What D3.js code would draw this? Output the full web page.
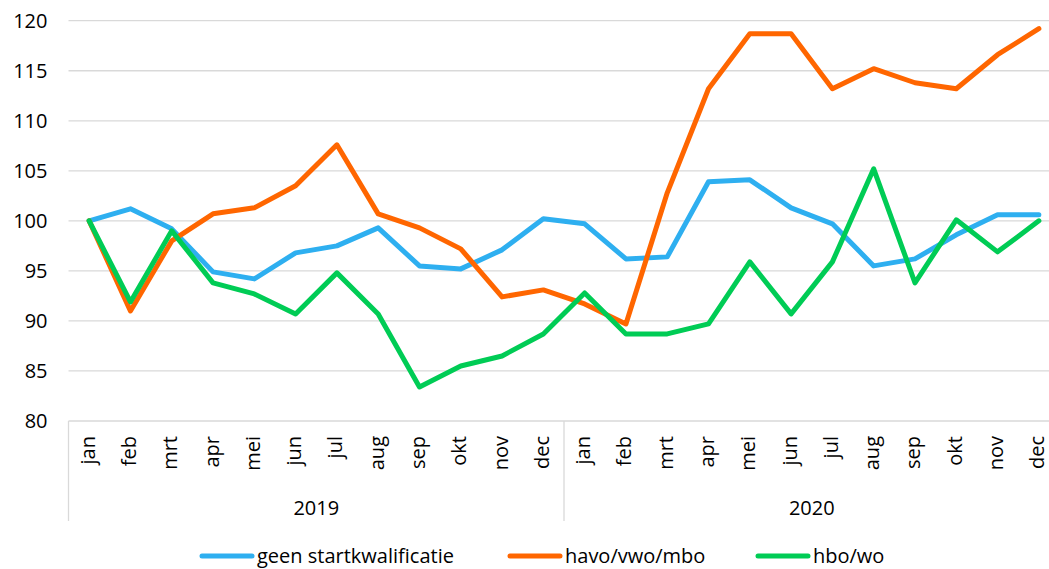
<!DOCTYPE html>
<html>
<head>
<meta charset="utf-8">
<script src="https://cdn.jsdelivr.net/npm/d3@7"></script>
<style>
	body { margin: 0; background: #fff; }
	svg { display: block; font-family: 'Open Sans', sans-serif; }
</style>
</head>
<body>
<svg class="chart" width="1049" height="569"></svg>
<script>
// chart data
let years = ['2019', '2020'];
let months = ['jan', 'feb', 'mrt', 'apr', 'mei', 'jun', 'jul', 'aug', 'sep', 'okt', 'nov', 'dec'];
let yTicks = [80, 85, 90, 95, 100, 105, 110, 115, 120];

let geen = [100, 101.2, 99.2, 94.9, 94.2, 96.8, 97.5, 99.3, 95.5, 95.2, 97.1, 100.2,
	99.7, 96.2, 96.4, 103.9, 104.1, 101.3, 99.7, 95.5, 96.2, 98.6, 100.6, 100.6];
let havo = [100, 91.0, 98.0, 100.7, 101.3, 103.5, 107.6, 100.7, 99.3, 97.2, 92.4, 93.1,
	91.7, 89.7, 102.8, 113.2, 118.7, 118.7, 113.2, 115.2, 113.8, 113.2, 116.6, 119.2];
let hbo = [100, 91.9, 99.0, 93.8, 92.7, 90.7, 94.8, 90.7, 83.4, 85.5, 86.5, 88.7,
	92.8, 88.7, 88.7, 89.7, 95.9, 90.7, 95.9, 105.2, 93.8, 100.1, 96.9, 100.0];

let series = [
	{ name: 'geen startkwalificatie', values: geen, color: '#2eaff0' },
	{ name: 'havo/vwo/mbo', values: havo, color: '#ff6600' },
	{ name: 'hbo/wo', values: hbo, color: '#00cc55' }
];

let layout = { left: 68.5, right: 1059.5, top: 20.7, bottom: 421 };
let fontSize = '20px';

let svg = d3.select('.chart');

// one slot per month, across both years
let slots = [];
years.forEach(function(y) {
	months.forEach(function(m) { slots.push(y + '-' + m); });
});

let x = d3.scaleBand().domain(slots).range([layout.left, layout.right]);
let y = d3.scaleLinear().domain([80, 120]).range([layout.bottom, layout.top]);

// gridlines
svg.append('g')
	.selectAll('line')
	.data(yTicks)
	.enter()
	.append('line')
	.attr('x1', layout.left)
	.attr('x2', layout.right)
	.attr('y1', function(d) { return y(d); })
	.attr('y2', function(d) { return y(d); })
	.attr('stroke', '#d9d9d9')
	.attr('stroke-width', 1.3);

// y axis labels
let yAxis = svg.append('g')
	.attr('transform', 'translate(' + layout.left + ',0)')
	.call(d3.axisLeft(y).tickValues(yTicks).tickSize(0).tickPadding(21));
yAxis.select('.domain').remove();
yAxis.selectAll('text')
	.style('font-family', "'Open Sans', sans-serif")
	.style('font-size', fontSize)
	.attr('fill', '#000');

// month labels, rotated
svg.append('g')
	.selectAll('text')
	.data(slots)
	.enter()
	.append('text')
	.attr('transform', function(d) {
		return 'translate(' + (x(d) + x.bandwidth() / 2 + 5.5) + ',' + (layout.bottom + 15) + ') rotate(-90)';
	})
	.attr('text-anchor', 'end')
	.style('font-size', fontSize)
	.text(function(d) { return d.split('-')[1]; });

// year group separators
let yearEdges = [slots[0], slots[12]].map(function(s) { return x(s); }).concat([layout.right]);
svg.append('g')
	.selectAll('line')
	.data(yearEdges)
	.enter()
	.append('line')
	.attr('x1', function(d) { return d; })
	.attr('x2', function(d) { return d; })
	.attr('y1', layout.bottom)
	.attr('y2', layout.bottom + 100)
	.attr('stroke', '#d9d9d9')
	.attr('stroke-width', 1.3);

// year labels
svg.append('g')
	.selectAll('text')
	.data(years)
	.enter()
	.append('text')
	.attr('x', function(d, i) { return (yearEdges[i] + yearEdges[i + 1]) / 2; })
	.attr('y', 515)
	.attr('text-anchor', 'middle')
	.style('font-size', fontSize)
	.text(function(d) { return d; });

// lines
let line = d3.line()
	.x(function(d, i) { return x(slots[i]) + x.bandwidth() / 2; })
	.y(function(d) { return y(d); });

svg.append('g')
	.selectAll('path')
	.data(series)
	.enter()
	.append('path')
	.attr('d', function(d) { return line(d.values); })
	.attr('fill', 'none')
	.attr('stroke', function(d) { return d.color; })
	.attr('stroke-width', 5)
	.attr('stroke-linejoin', 'round')
	.attr('stroke-linecap', 'round');

// legend
let legendX = [200, 508, 756];
let legend = svg.append('g')
	.selectAll('g')
	.data(series)
	.enter()
	.append('g')
	.attr('transform', function(d, i) { return 'translate(' + legendX[i] + ',556)'; });

legend.append('line')
	.attr('x1', 2)
	.attr('x2', 52)
	.attr('stroke', function(d) { return d.color; })
	.attr('stroke-width', 5)
	.attr('stroke-linecap', 'round');

legend.append('text')
	.attr('x', 57)
	.attr('y', 7)
	.style('font-size', fontSize)
	.text(function(d) { return d.name; });
</script>
</body>
</html>
